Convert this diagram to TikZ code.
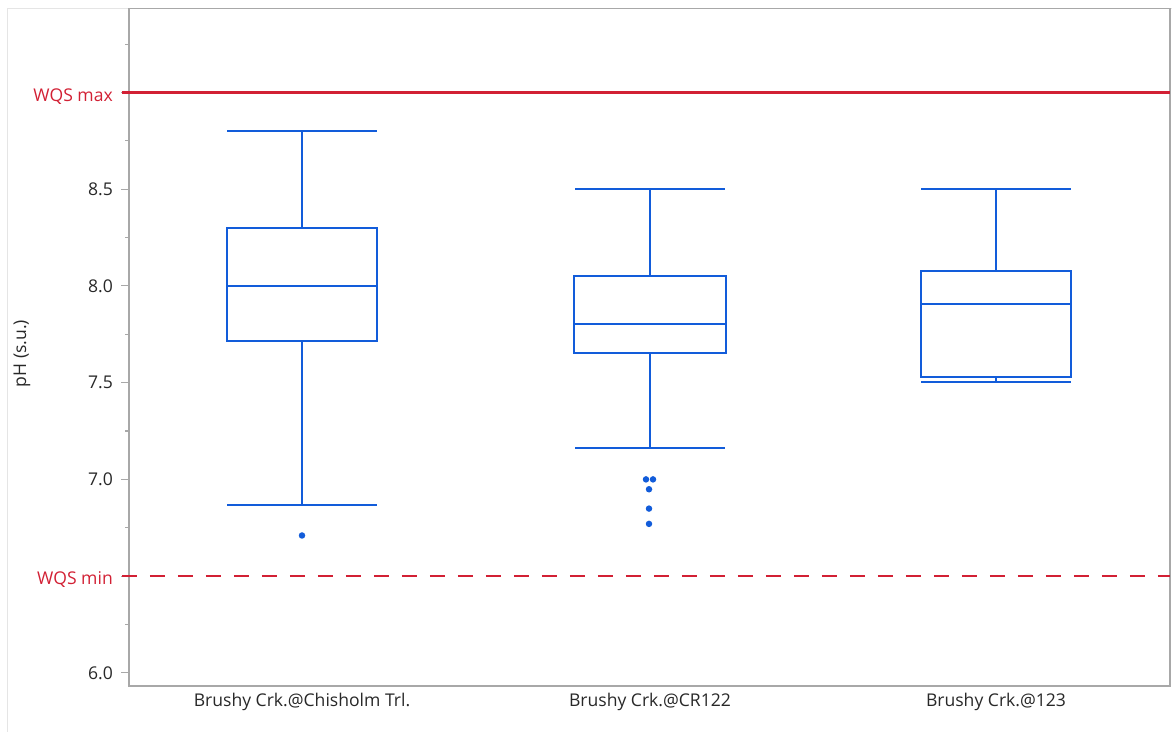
\documentclass[tikz,border=0pt]{standalone}
\usepackage{fontspec}
\setmainfont{Open Sans}
\usepackage{xcolor}
\usepackage{tikz}
\usetikzlibrary{
  arrows.meta,
  calc,
  positioning
}
\definecolor{boxblue}{RGB}{18,92,218}
\definecolor{wqsred}{RGB}{210,32,52}
\definecolor{framegray}{RGB}{168,168,168}
\definecolor{labelgray}{RGB}{40,40,40}

\begin{document}
\begin{tikzpicture}[
  x=0.02cm, y=3.87cm,
  bplot/.style={draw=boxblue, line width=1.25pt},
  outl/.style={circle, fill=boxblue, inner sep=0pt, minimum size=0.13cm},
  axtick/.style={draw=framegray, line width=0.6pt},
  lbl/.style={font=\fontsize{10}{12}\selectfont, text=labelgray},
  wqs/.style={draw=wqsred, line width=1.4pt},
  wqslbl/.style={font=\fontsize{10}{12}\selectfont, text=wqsred, anchor=base east}
]
  \useasboundingbox (0,5.695) rectangle (1176,9.478);

  % Outer frame
  \draw[black!10, line width=0.5pt] (7,5.695) -- (7,9.434) -- (1172,9.434);
  % Plot frame
  \draw[framegray, line width=0.8pt] (129,5.933) rectangle (1170,9.434);

  % Ticks
  \foreach \v in {6.0,6.5,...,9.0}
    \draw[axtick] (121,\v) -- (129,\v);
  \foreach \v in {6.25,6.75,...,9.25}
    \draw[axtick] (125,\v) -- (129,\v);

  % Tick labels
  \node[lbl, anchor=east] (y60) at (119,6.0) {6.0};
  \node[lbl, anchor=east] (y70) at (119,7.0) {7.0};
  \node[lbl, anchor=east] (y75) at (119,7.5) {7.5};
  \node[lbl, anchor=east] (y80) at (119,8.0) {8.0};
  \node[lbl, anchor=east] (y85) at (119,8.5) {8.5};
  \node[lbl, rotate=90] (ylab) at (22,7.65) {pH (s.u.)};

  % WQS limits
  \draw[wqs] (122,9.0) -- (1170,9.0);
  \node[wqslbl] (wqsmax) at (119,8.955) {WQS max};
  \draw[wqs, dash pattern=on 0.3cm off 0.26cm] (122,6.5) -- (1170,6.5);
  \node[wqslbl] (wqsmin) at (119,6.455) {WQS min};

  % Brushy Crk.@Chisholm Trl.
  \draw[bplot] (302,8.298) -- (302,8.801);
  \draw[bplot] (227,8.801) -- (377,8.801);
  \draw[bplot] (302,7.714) -- (302,6.868);
  \draw[bplot] (227,6.868) -- (377,6.868);
  \draw[bplot, fill=white] (227,7.714) rectangle (377,8.298);
  \draw[bplot] (227,8.0) -- (377,8.0);
  \node[outl] (o1) at (302,6.710) {};

  % Brushy Crk.@CR122
  \draw[bplot] (650,8.053) -- (650,8.5);
  \draw[bplot] (575,8.5) -- (725,8.5);
  \draw[bplot] (650,7.654) -- (650,7.163);
  \draw[bplot] (575,7.163) -- (725,7.163);
  \draw[bplot, fill=white] (574,7.654) rectangle (726,8.053);
  \draw[bplot] (574,7.802) -- (726,7.802);
  \node[outl] (o2a) at (646,7.0) {};
  \node[outl] (o2b) at (653,7.0) {};
  \node[outl] (o2c) at (649,6.949) {};
  \node[outl] (o2d) at (649,6.849) {};
  \node[outl] (o2e) at (649,6.770) {};

  % Brushy Crk.@123
  \draw[bplot] (996,8.079) -- (996,8.5);
  \draw[bplot] (921,8.5) -- (1071,8.5);
  \draw[bplot] (996,7.530) -- (996,7.504);
  \draw[bplot] (921,7.504) -- (1071,7.504);
  \draw[bplot, fill=white] (921,7.530) rectangle (1071,8.079);
  \draw[bplot] (921,7.905) -- (1071,7.905);

  % Site labels
  \node[lbl, anchor=base] (s1) at (302,5.824) {Brushy Crk.@Chisholm Trl.};
  \node[lbl, anchor=base] (s2) at (650,5.824) {Brushy Crk.@CR122};
  \node[lbl, anchor=base] (s3) at (996,5.824) {Brushy Crk.@123};
\end{tikzpicture}
\end{document}
